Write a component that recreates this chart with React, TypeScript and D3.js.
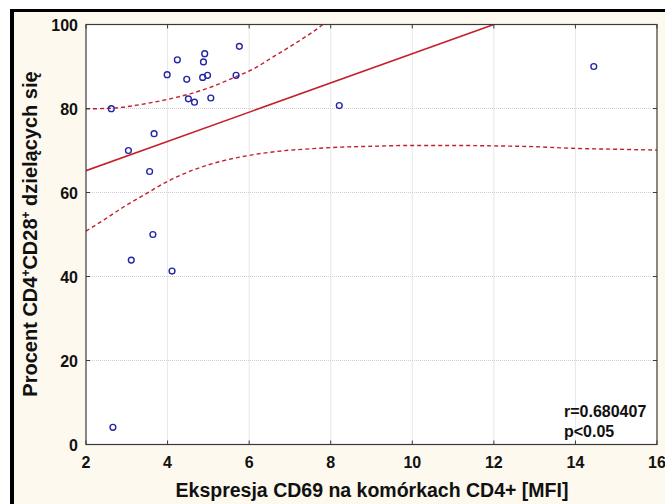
import React from "react";
import * as d3 from "d3";

const xVals = [2.62, 3.04, 3.67, 3.56, 3.64, 3.99, 4.24, 4.47, 4.51, 4.66, 4.91, 4.88, 4.86, 4.98, 5.06, 5.68, 5.76, 8.21, 14.45, 3.11, 4.11, 2.66];
const yVals = [79.95, 70.0, 74.0, 65.0, 50.0, 88.05, 91.6, 86.95, 82.3, 81.5, 93.05, 91.1, 87.4, 87.9, 82.5, 87.9, 94.8, 80.7, 90.0, 43.9, 41.3, 4.1];

const fitX = [2, 12];
const fitY = [65.2, 100];

const upperX = [2, 2.67, 3.49, 4.06, 4.55, 5.12, 5.61, 6.1, 6.59, 7.08, 7.74, 8.0];
const upperY = [79.9, 80.1, 81.2, 82.3, 83.5, 85.3, 87.3, 89.4, 92.3, 95.2, 99.5, 101.5];

const lowerX = [2, 2.44, 2.93, 3.42, 3.99, 4.64, 5.38, 6.04, 6.85, 7.34, 8.0, 9.0, 10.0, 11.0, 12.0, 13.0, 14.0, 15.0, 16.0];
const lowerY = [50.8, 53.5, 56.6, 59.4, 62.6, 65.4, 67.6, 68.9, 69.95, 70.3, 70.7, 71.0, 71.2, 71.2, 71.1, 70.9, 70.5, 70.3, 70.1];

const xTicks = [2, 4, 6, 8, 10, 12, 14, 16];
const yTicks = [0, 20, 40, 60, 80, 100];

const xTitle = "Ekspresja CD69 na komórkach CD4+ [MFI]";
const statLines = ["r=0.680407", "p<0.05"];

const W = 665;
const H = 504;
const L = 86, R = 657, T = 24.5, B = 444.5;
const FONT = "'Liberation Sans', Arial, Helvetica, sans-serif";

export default function App() {
  const x = d3.scaleLinear().domain([2, 16]).range([L, R]);
  const y = d3.scaleLinear().domain([0, 100]).range([B, T]);

  const line = d3
    .line<[number, number]>()
    .x((d) => x(d[0]))
    .y((d) => y(d[1]))
    .curve(d3.curveMonotoneX);
  const straight = d3
    .line<[number, number]>()
    .x((d) => x(d[0]))
    .y((d) => y(d[1]));

  const upper = line(upperX.map((v, i) => [v, upperY[i]] as [number, number])) || "";
  const lower = line(lowerX.map((v, i) => [v, lowerY[i]] as [number, number])) || "";
  const fit = straight(fitX.map((v, i) => [v, fitY[i]] as [number, number])) || "";

  const red = "#c4202c";
  const blue = "#2424a8";
  const axisCol = "#3a3a3a";

  return (
    <svg
      width={W}
      height={H}
      style={{ position: "absolute", left: 0, top: 0, display: "block" }}
      fontFamily={FONT}
    >
      <defs>
        <clipPath id="plotclip">
          <rect x={L} y={T} width={R - L} height={B - T} />
        </clipPath>
      </defs>
      <rect x={0} y={0} width={W} height={H} fill="#ffffff" />
      <rect x={10} y={9} width={W - 10} height={H - 9} fill="#000000" />
      <rect x={14} y={12} width={W - 14} height={H - 12} fill="#fdf9ee" />

      <rect x={L} y={T} width={R - L} height={B - T} fill="#ffffff" />

      {/* grid */}
      {xTicks.slice(1, -1).map((t) => (
        <line key={"gx" + t} x1={x(t)} x2={x(t)} y1={T} y2={B} stroke="#cfcfcf" strokeWidth={1} strokeDasharray="1,1" />
      ))}
      {yTicks.slice(1, -1).map((t) => (
        <line key={"gy" + t} x1={L} x2={R} y1={y(t)} y2={y(t)} stroke="#cfcfcf" strokeWidth={1} strokeDasharray="1,1" />
      ))}

      <g clipPath="url(#plotclip)">
        <path d={upper} fill="none" stroke={red} strokeWidth={1.4} strokeDasharray="4,3" />
        <path d={lower} fill="none" stroke={red} strokeWidth={1.4} strokeDasharray="4,3" />
        <path d={fit} fill="none" stroke={red} strokeWidth={1.6} />
      </g>

      {xVals.map((v, i) => (
        <circle key={"p" + i} cx={x(v)} cy={y(yVals[i])} r={2.9} fill="none" stroke={blue} strokeWidth={1.4} />
      ))}

      {/* frame */}
      <rect x={L} y={T} width={R - L} height={B - T} fill="none" stroke={axisCol} strokeWidth={1.2} />

      {/* ticks */}
      {xTicks.map((t) => (
        <g key={"tx" + t}>
          <line x1={x(t)} x2={x(t)} y1={B} y2={B - 4} stroke={axisCol} />
          <line x1={x(t)} x2={x(t)} y1={T} y2={T + 4} stroke={axisCol} />
          <text x={x(t)} y={468} textAnchor="middle" fontSize={16} fontWeight="bold" fill="#111">
            {t}
          </text>
        </g>
      ))}
      {yTicks.map((t) => (
        <g key={"ty" + t}>
          <line x1={L} x2={L + 4} y1={y(t)} y2={y(t)} stroke={axisCol} />
          <line x1={R} x2={R - 4} y1={y(t)} y2={y(t)} stroke={axisCol} />
          <text x={78} y={y(t) + 6.5} textAnchor="end" fontSize={16} fontWeight="bold" fill="#111">
            {t}
          </text>
        </g>
      ))}

      {/* stats */}
      {statLines.map((s, i) => (
        <text key={"s" + i} x={564} y={416.5 + i * 20} fontSize={16} fontWeight="bold" fill="#111">
          {s}
        </text>
      ))}

      {/* axis titles */}
      <text x={372} y={497} textAnchor="middle" fontSize={19.5} fontWeight="bold" fill="#111">
        {xTitle}
      </text>
      <text
        transform={`translate(37,234) rotate(-90)`}
        textAnchor="middle"
        fontSize={20}
        fontWeight="bold"
        fill="#111"
      >
        Procent CD4
        <tspan dy={-7} fontSize={12}>+</tspan>
        <tspan dy={7}>CD28</tspan>
        <tspan dy={-7} fontSize={12}>+</tspan>
        <tspan dy={7}> dzielących się</tspan>
      </text>
    </svg>
  );
}
